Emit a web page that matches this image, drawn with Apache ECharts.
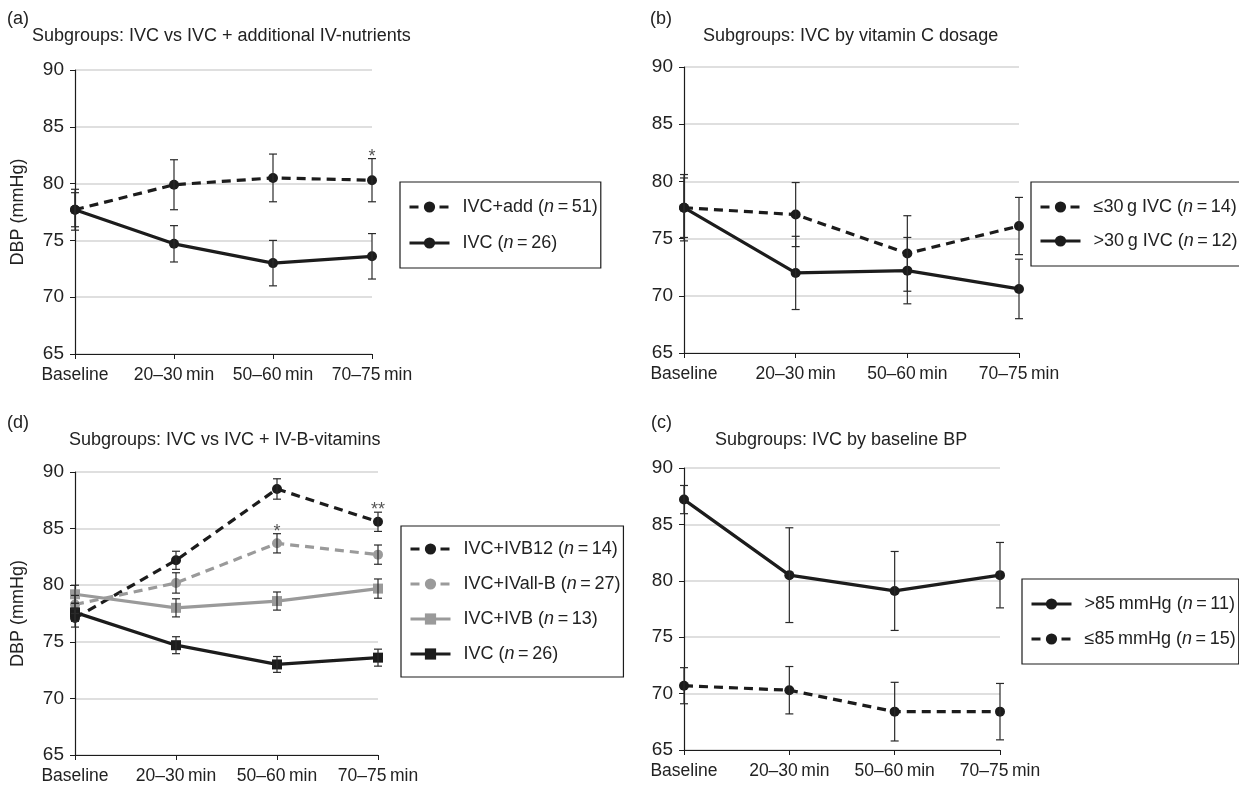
<!DOCTYPE html>
<html>
<head>
<meta charset="utf-8">
<script src="https://cdn.jsdelivr.net/npm/echarts@6/dist/echarts.min.js"></script>
<style>
html,body{margin:0;padding:0;background:#fff;}
#chart{width:1239px;height:785px;}
</style>
</head>
<body>
<div id="chart"></div>
<script>
const categories = ['Baseline', '20\u201330\u2009min', '50\u201360\u2009min', '70\u201375\u2009min'];
const yTicks = [65, 70, 75, 80, 85, 90];

// Panel (a)
const aAddMean = [77.7, 79.9, 80.5, 80.3];
const aAddErr  = [1.8, 2.2, 2.1, 1.9];
const aAddStars = ['', '', '', '*'];
const aIvcMean = [77.7, 74.7, 73.0, 73.6];
const aIvcErr  = [1.5, 1.6, 2.0, 2.0];

// Panel (b)
const bLowMean  = [77.7, 77.1, 73.7, 76.1];
const bLowErr   = [2.9, 2.8, 3.3, 2.5];
const bHighMean = [77.7, 72.0, 72.2, 70.6];
const bHighErr  = [2.6, 3.2, 2.9, 2.6];

// Panel (d)
const dB12Mean  = [77.1, 82.2, 88.5, 85.6];
const dB12Err   = [0.8, 0.8, 0.9, 0.85];
const dB12Stars = ['', '', '', '**'];
const dAllBMean = [78.3, 80.2, 83.7, 82.7];
const dAllBErr  = [0.8, 0.9, 0.85, 0.85];
const dAllBStars = ['', '', '*', ''];
const dIvbMean  = [79.2, 78.0, 78.6, 79.7];
const dIvbErr   = [0.8, 0.8, 0.8, 0.85];
const dIvcMean  = [77.6, 74.7, 73.0, 73.6];
const dIvcErr   = [0.8, 0.75, 0.7, 0.75];

// Panel (c)
const cHighMean = [87.2, 80.5, 79.1, 80.5];
const cHighErr  = [1.25, 4.2, 3.5, 2.9];
const cLowMean  = [70.7, 70.3, 68.4, 68.4];
const cLowErr   = [1.6, 2.1, 2.6, 2.5];

const legendLabels = {
  a1: ['IVC+add (', '\u2009=\u200951)'],
  a2: ['IVC (', '\u2009=\u200926)'],
  b1: ['\u226430\u2009g IVC (', '\u2009=\u200914)'],
  b2: ['>30\u2009g IVC (', '\u2009=\u200912)'],
  d1: ['IVC+IVB12 (', '\u2009=\u200914)'],
  d2: ['IVC+IVall-B (', '\u2009=\u200927)'],
  d3: ['IVC+IVB (', '\u2009=\u200913)'],
  d4: ['IVC (', '\u2009=\u200926)'],
  c1: ['>85\u2009mmHg (', '\u2009=\u200911)'],
  c2: ['\u226485\u2009mmHg (', '\u2009=\u200915)']
};

const FONT = 'Liberation Sans, Arial, Helvetica, sans-serif';
const BLACK = '#1c1c1c';
const GRAY = '#9a9a9a';
const TXT = '#222';

const grids = [
  {left: 75,  top: 70,  width: 297, height: 284},  // a
  {left: 684, top: 67,  width: 335, height: 286},  // b
  {left: 75,  top: 472, width: 303, height: 284},  // d
  {left: 684, top: 468, width: 316, height: 282}   // c
];

function xAxis(i) {
  return {
    type: 'category', gridIndex: i, data: categories, boundaryGap: false,
    axisLine: {lineStyle: {color: BLACK, width: 1.2}},
    axisTick: {show: true, length: 5, lineStyle: {color: BLACK}},
    axisLabel: {color: TXT, fontSize: 17.5, fontFamily: FONT, margin: 12, interval: 0},
    splitLine: {show: false}
  };
}
function yAxis(i, named) {
  return {
    type: 'value', gridIndex: i, min: 65, max: 90, interval: 5,
    name: named ? 'DBP (mmHg)' : '', nameLocation: 'middle', nameGap: 48,
    nameTextStyle: {color: TXT, fontSize: 18, fontFamily: FONT},
    axisLine: {show: true, lineStyle: {color: BLACK, width: 1.2}},
    axisTick: {show: true, length: 5, lineStyle: {color: BLACK}},
    axisLabel: {color: TXT, fontSize: 19, fontFamily: FONT, margin: 11},
    splitLine: {show: true, lineStyle: {color: '#d4d4d4', width: 1.5}}
  };
}

function lineSeries(name, gi, data, color, dashed, symbol) {
  return {
    type: 'line', name: name, xAxisIndex: gi, yAxisIndex: gi, data: data,
    symbol: symbol, symbolSize: 10,
    itemStyle: {color: color},
    lineStyle: {color: color, width: 3.2, type: dashed ? [9, 6] : 'solid'},
    z: 4, animation: false, silent: true
  };
}
function errSeries(gi, mean, err, stars) {
  const data = mean.map((m, i) => [i, m - err[i], m + err[i]]);
  return {
    type: 'custom', xAxisIndex: gi, yAxisIndex: gi, data: data, z: 5, silent: true, animation: false,
    encode: {x: 0, y: [1, 2]},
    renderItem: function (params, api) {
      const x = api.value(0);
      const lo = api.coord([x, api.value(1)]);
      const hi = api.coord([x, api.value(2)]);
      const w = 4;
      const st = {stroke: '#2a2a2a', lineWidth: 1.2};
      const children = [
        {type: 'line', shape: {x1: lo[0], y1: lo[1], x2: hi[0], y2: hi[1]}, style: st},
        {type: 'line', shape: {x1: hi[0] - w, y1: hi[1], x2: hi[0] + w, y2: hi[1]}, style: st},
        {type: 'line', shape: {x1: lo[0] - w, y1: lo[1], x2: lo[0] + w, y2: lo[1]}, style: st}
      ];
      const s = stars ? stars[params.dataIndex] : '';
      if (s) {
        children.push({type: 'text', style: {text: s, x: hi[0], y: hi[1] + 7, align: 'center', verticalAlign: 'bottom', fontSize: 18, fontFamily: FONT, fill: '#555'}});
      }
      return {type: 'group', children: children};
    }
  };
}

function legend(names, left, top, gap, padTop) {
  return {
    data: names, orient: 'vertical', left: left, top: top,
    itemWidth: 40, itemHeight: 14, itemGap: gap,
    padding: [padTop, 3, padTop, 8],
    borderColor: BLACK, borderWidth: 1.2, borderRadius: 0,
    selectedMode: false,
    lineStyle: {width: 3},
    formatter: function (name) {
      const p = legendLabels[name];
      return '{t|' + p[0] + '}{i|n}{t|' + p[1] + '}';
    },
    textStyle: {
      color: TXT, fontSize: 18, fontFamily: FONT, padding: [0, 0, 0, 8],
      rich: {
        t: {fontSize: 18, fontFamily: FONT, color: TXT},
        i: {fontSize: 18, fontFamily: FONT, color: TXT, fontStyle: 'italic'}
      }
    }
  };
}

function txt(text, left, top, size) {
  return {text: text, left: left, top: top, padding: 0,
    textStyle: {color: TXT, fontSize: size, fontWeight: 'normal', fontFamily: FONT}};
}

const option = {
  backgroundColor: '#fff',
  animation: false,
  title: [
    txt('(a)', 7, 10, 18),
    txt('Subgroups: IVC vs IVC + additional IV-nutrients', 32, 27, 18),
    txt('(b)', 650, 10, 18),
    txt('Subgroups: IVC by vitamin C dosage', 703, 27, 18),
    txt('(d)', 7, 414, 18),
    txt('Subgroups: IVC vs IVC + IV-B-vitamins', 69, 431, 18),
    txt('(c)', 651, 414, 18),
    txt('Subgroups: IVC by baseline BP', 715, 431, 18)
  ],
  grid: grids,
  xAxis: [xAxis(0), xAxis(1), xAxis(2), xAxis(3)],
  yAxis: [yAxis(0, true), yAxis(1, false), yAxis(2, true), yAxis(3, false)],
  legend: [
    legend(['a1', 'a2'], 400, 182, 18, 16),
    legend(['b1', 'b2'], 1031, 182, 16, 16),
    legend(['d1', 'd2', 'd3', 'd4'], 401, 526, 17, 14),
    legend(['c1', 'c2'], 1022, 579, 17, 16)
  ],
  series: [
    errSeries(0, aAddMean, aAddErr, aAddStars),
    errSeries(0, aIvcMean, aIvcErr, null),
    lineSeries('a1', 0, aAddMean, BLACK, true, 'circle'),
    lineSeries('a2', 0, aIvcMean, BLACK, false, 'circle'),

    errSeries(1, bLowMean, bLowErr, null),
    errSeries(1, bHighMean, bHighErr, null),
    lineSeries('b1', 1, bLowMean, BLACK, true, 'circle'),
    lineSeries('b2', 1, bHighMean, BLACK, false, 'circle'),

    errSeries(2, dB12Mean, dB12Err, dB12Stars),
    errSeries(2, dAllBMean, dAllBErr, dAllBStars),
    errSeries(2, dIvbMean, dIvbErr, null),
    errSeries(2, dIvcMean, dIvcErr, null),
    lineSeries('d1', 2, dB12Mean, BLACK, true, 'circle'),
    lineSeries('d2', 2, dAllBMean, GRAY, true, 'circle'),
    lineSeries('d3', 2, dIvbMean, GRAY, false, 'rect'),
    lineSeries('d4', 2, dIvcMean, BLACK, false, 'rect'),

    errSeries(3, cHighMean, cHighErr, null),
    errSeries(3, cLowMean, cLowErr, null),
    lineSeries('c1', 3, cHighMean, BLACK, false, 'circle'),
    lineSeries('c2', 3, cLowMean, BLACK, true, 'circle')
  ]
};

const chart = echarts.init(document.getElementById('chart'), null, {renderer: 'canvas'});
chart.setOption(option);
</script>
</body>
</html>
